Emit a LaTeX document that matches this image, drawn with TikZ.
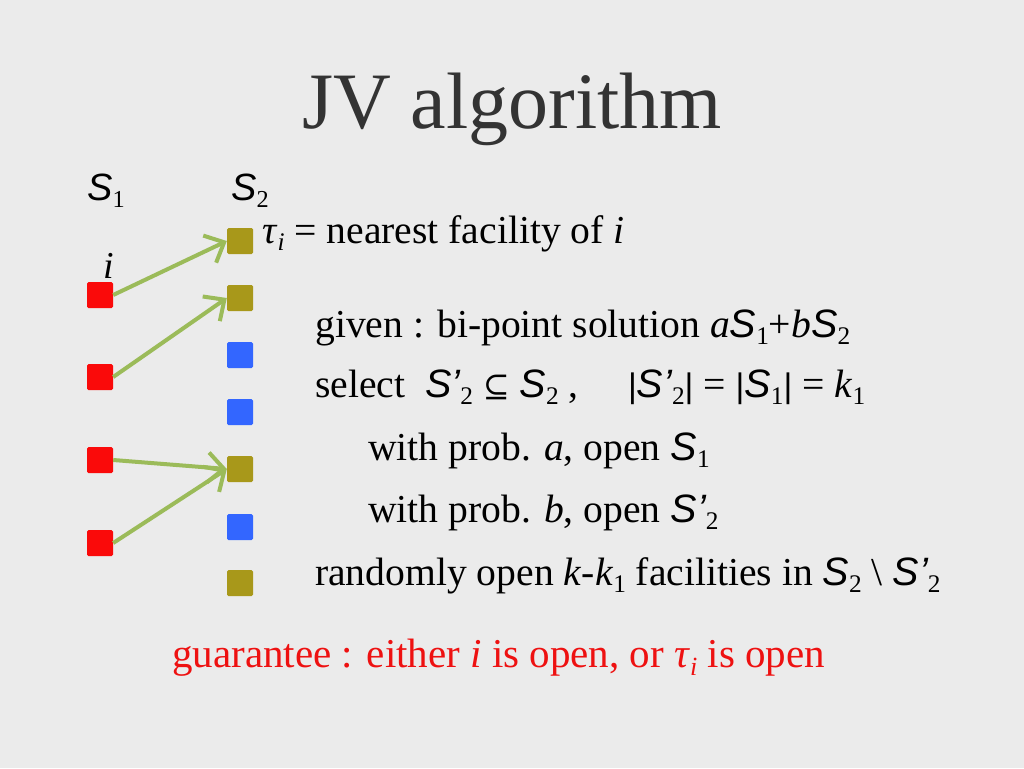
\documentclass[tikz,border=0pt]{standalone}
\usepackage{fontspec}
\setmainfont{Liberation Serif}
\newfontfamily\arialf{Liberation Sans}
\newfontfamily\dejaf{DejaVu Serif}
\usetikzlibrary{arrows.meta}
\makeatletter
\newcommand{\sbs}[1]{\raisebox{-0.2em}{\fontsize{\the\dimexpr 0.64\dimexpr\f@size pt\relax\relax}{1pt}\selectfont #1}}
\makeatother
\newcommand{\Sset}{{\arialf\itshape S}}
\newcommand{\Sp}{{\arialf\itshape S’}}
\newcommand{\vbar}{{\arialf\fontsize{34}{40}\selectfont|}}
\definecolor{bgc}{HTML}{EBEBEB}
\definecolor{titlec}{HTML}{333333}
\definecolor{redsq}{HTML}{FA0A0A}
\definecolor{olivesq}{HTML}{A8981A}
\definecolor{bluesq}{HTML}{3366FF}
\definecolor{arrowc}{HTML}{9BBB59}
\definecolor{guarc}{HTML}{EE1111}
\tikzset{
  fac/.style={minimum size=26pt, inner sep=0pt, draw=none, rounded corners=1.5pt},
  redf/.style={fac, fill=redsq},
  olivef/.style={fac, fill=olivesq},
  bluef/.style={fac, fill=bluesq},
  link/.style={draw=arrowc, line width=4pt, -{Straight Barb[length=16pt,width=30pt]}, shorten >=0pt},
  txt/.style={anchor=base west, inner sep=0pt, font=\fontsize{39.6}{48}\selectfont},
  lbl/.style={anchor=base west, inner sep=0pt, font=\fontsize{38}{46}\selectfont},
}
\begin{document}
\begin{tikzpicture}[x=1pt,y=-1pt]
\useasboundingbox (0,0) rectangle (1024,768);
\fill[bgc] (0,0) rectangle (1024,768);
% title
\node[anchor=base, inner sep=0pt, text=titlec, font=\fontsize{80}{90}\selectfont] (title) at (512,128) {JV algorithm};
% labels
\node[lbl] (s1lbl) at (87,200) {\Sset\sbs{1}};
\node[lbl] (s2lbl) at (231,200) {\Sset\sbs{2}};
\node[lbl] (ilbl) at (103,278) {\textit{i}};
% S1 squares
\node[redf] (r1) at (100,295) {};
\node[redf] (r2) at (100,377) {};
\node[redf] (r3) at (100,460) {};
\node[redf] (r4) at (100,543) {};
% S2 squares
\node[olivef] (o1) at (240,241) {};
\node[olivef] (o2) at (240,298) {};
\node[bluef] (b1) at (240,355) {};
\node[bluef] (b2) at (240,412) {};
\node[olivef] (o3) at (240,469) {};
\node[bluef] (b3) at (240,527) {};
\node[olivef] (o4) at (240,583) {};
% arrows
\draw[link] (r1.east) -- (o1.west);
\draw[link] (r2.east) -- (o2.west);
\draw[link] (r3.east) -- (o3.west);
\draw[link] (r4.east) -- (o3.west);
% texts
\node[txt] (tau) at (262,243) {\textit{τ}\sbs{\textit{i}} = nearest facility of \textit{i}};
\node[txt] (given) at (315,337) {given : bi-point solution \textit{a}\Sset\sbs{1}+\textit{b}\Sset\sbs{2}};
\node[txt] (select) at (315,397) {select\ \ \Sp\sbs{2} {\dejaf\fontsize{32}{40}\selectfont ⊆} \Sset\sbs{2} ,\quad\ \vbar\Sp\sbs{2}\vbar\ = \vbar\Sset\sbs{1}\vbar\ = \textit{k}\sbs{1}};
\node[txt] (proba) at (368,460) {with prob. \textit{a}, open \Sset\sbs{1}};
\node[txt] (probb) at (368,522) {with prob. \textit{b}, open \Sp\sbs{2}};
\node[txt] (rand) at (315,585) {randomly open \textit{k}-\textit{k}\sbs{1} facilities in \Sset\sbs{2} \textbackslash\ \Sp\sbs{2}};
\node[txt, text=guarc, font=\fontsize{41}{48}\selectfont] (guar) at (172,667) {guarantee : either \textit{i} is open, or \textit{τ}\sbs{\textit{i}} is open};
\end{tikzpicture}
\end{document}
